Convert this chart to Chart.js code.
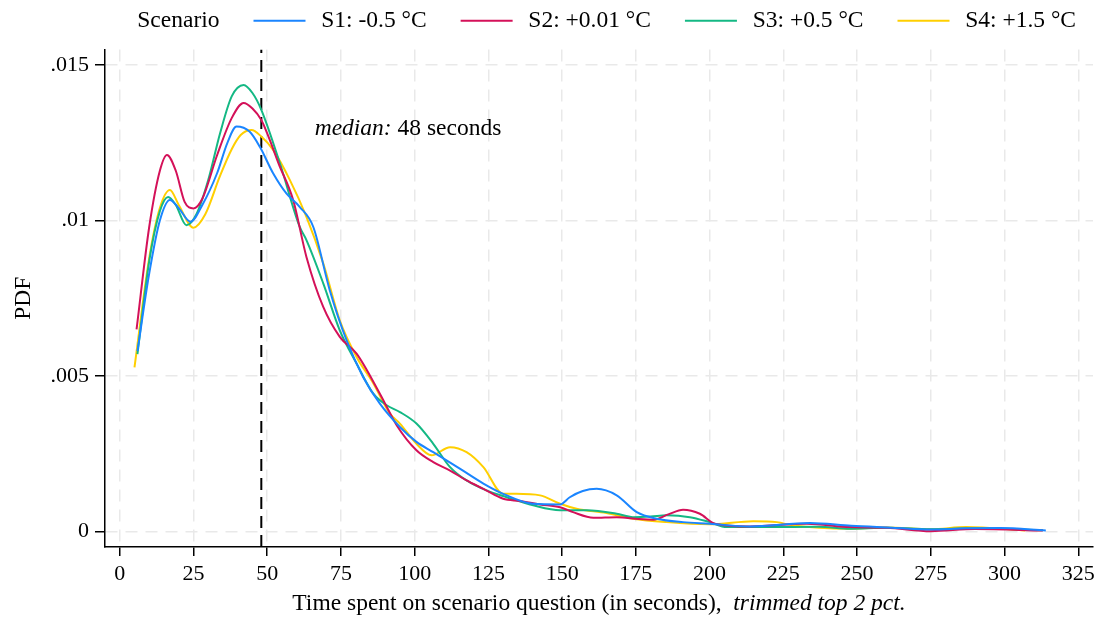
<!DOCTYPE html>
<html>
<head>
<meta charset="utf-8">
<script src="https://cdn.jsdelivr.net/npm/chart.js@4.4.1/dist/chart.umd.min.js"></script>
<style>
  html, body { margin: 0; padding: 0; background: #fff; }
  #wrap { width: 1100px; height: 621px; }
</style>
</head>
<body>
<div id="wrap"><canvas id="chart"></canvas></div>
<script>
// densities, [seconds, pdf]
const s1 = [[6,0.0058],[10,0.0083],[13.6,0.0100],[17,0.01066],[20,0.0104],[24,0.00996],[28,0.0105],[33,0.01152],[36.5,0.0125],[39.6,0.01302],[44,0.01286],[47.5,0.01237],[52,0.01152],[56.5,0.01087],[61,0.01044],[65.6,0.0098],[71.2,0.00776],[76.9,0.00615],[82.5,0.00497],[88.2,0.00411],[95,0.00336],[100.6,0.00288],[106.3,0.00255],[115.3,0.00202],[123.3,0.00154],[130,0.00121],[140,0.00089],[149.3,0.00087],[152.6,0.0011],[157,0.0013],[161.7,0.00137],[168.5,0.00116],[175.3,0.00062],[182,0.00041],[191,0.0003],[200,0.00025],[213.7,0.00016],[234,0.00027],[248,0.00018],[262,0.00012],[275,0.00006],[287,0.0001],[298.5,0.00011],[314,0.00003]];
const s2 = [[5.7,0.0065],[10,0.0098],[13.6,0.0116],[16,0.01211],[19,0.0116],[22,0.0106],[25,0.01039],[28,0.0107],[33,0.0121],[38,0.0133],[42,0.01378],[45,0.0136],[48,0.01323],[50,0.0128],[54,0.0118],[58.8,0.01066],[63.3,0.00883],[69,0.00722],[74.6,0.00626],[80.3,0.00572],[88.2,0.00443],[94,0.0034],[100.6,0.00261],[106.3,0.00223],[112,0.00196],[117.6,0.00164],[123.3,0.00137],[130,0.00105],[135.7,0.00098],[142.5,0.00087],[149.3,0.00078],[153.7,0.00062],[160.6,0.00044],[168.5,0.00046],[176,0.0004],[181,0.00038],[186,0.00055],[191,0.0007],[196.7,0.00057],[201.8,0.00025],[213.7,0.00016],[233,0.00025],[247.6,0.00014],[260,0.00012],[275,0.00001],[290,0.00008],[313,0.00003]];
const s3 = [[6,0.0057],[10,0.0087],[13.6,0.0103],[16.4,0.01076],[19,0.0105],[22.6,0.00985],[26,0.0102],[30,0.0113],[34,0.0128],[38,0.014],[42,0.01436],[45,0.0141],[48,0.01356],[54.3,0.01184],[61,0.0098],[63.3,0.00937],[69,0.00798],[74.6,0.00647],[80.3,0.0054],[86,0.00443],[90.5,0.00406],[95,0.00384],[100.6,0.00347],[106.3,0.00282],[112,0.00207],[117.6,0.00164],[124.4,0.00132],[131.2,0.0011],[140.2,0.00084],[149.3,0.00068],[158.3,0.00068],[168.5,0.00057],[174,0.00046],[180,0.00048],[185.4,0.00052],[193.3,0.00046],[200,0.0003],[205.8,0.00014],[219.3,0.00014],[237,0.00015],[247.6,0.00009],[260,0.00012],[275,0.00007],[290,0.0001],[313,0.00004]];
const s4 = [[5,0.00528],[10,0.0088],[13.6,0.0104],[17,0.01098],[20,0.0105],[25,0.00977],[29,0.0102],[33.9,0.01141],[38,0.0123],[41,0.01275],[44.7,0.01291],[48,0.0127],[52,0.01227],[57.7,0.0113],[63.3,0.01012],[69,0.00862],[74.6,0.00679],[80.3,0.00561],[86,0.00476],[91.6,0.00379],[95,0.00347],[100.6,0.00282],[105.7,0.00245],[112,0.00271],[117.6,0.00255],[123.3,0.00207],[130,0.00121],[134.5,0.00121],[142.5,0.00116],[149.3,0.00089],[154.9,0.00073],[165,0.00059],[174,0.00041],[185.4,0.0003],[200,0.00023],[214.8,0.00033],[222.8,0.0003],[228.4,0.00019],[247.6,0.00009],[260,0.00013],[275,0.00007],[287,0.00014],[307,0.00003]];

const seriesNames = ['S1: -0.5 °C', 'S2: +0.01 °C', 'S3: +0.5 °C', 'S4: +1.5 °C'];
const seriesColors = ['#1a85ff', '#d41159', '#14b884', '#ffcf00'];
const xTicks = [0, 25, 50, 75, 100, 125, 150, 175, 200, 225, 250, 275, 300, 325];
const yTicks = [0, 0.005, 0.01, 0.015];
const yTickLabels = ['0', '.005', '.01', '.015'];
const medianSeconds = 48;

const FONT = '"Liberation Serif", "Times New Roman", serif';
const TXT = 23.5;
const toPoints = arr => arr.map(p => ({ x: p[0], y: p[1] }));

// legend swatch: a short line with some blank space either side
function legendLine(color) {
  const c = document.createElement('canvas');
  c.width = 73; c.height = 4;
  const g = c.getContext('2d');
  g.fillStyle = color;
  g.fillRect(17, 1, 52, 2);
  return c;
}

const datasets = [s1, s2, s3, s4].map((s, i) => ({
  label: seriesNames[i],
  data: toPoints(s),
  borderColor: seriesColors[i],
  backgroundColor: seriesColors[i],
  borderWidth: 2,
  pointRadius: 0,
  pointStyle: legendLine(seriesColors[i]),
  cubicInterpolationMode: 'monotone',
  fill: false
}));
datasets.push({
  label: 'median',
  data: [{ x: medianSeconds, y: -0.0005 }, { x: medianSeconds, y: 0.0155 }],
  borderColor: '#000',
  borderWidth: 2,
  borderDash: [12, 7],
  pointRadius: 0
});

// "Scenario" legend heading, median note and x title (mixed italics)
const extras = {
  id: 'extras',
  afterDraw(chart) {
    const ctx = chart.ctx;
    const { x, y } = chart.scales;
    ctx.save();
    ctx.fillStyle = '#000';

    const box = chart.legend.legendHitBoxes[0];
    ctx.font = TXT + 'px ' + FONT;
    ctx.textAlign = 'right';
    ctx.textBaseline = 'middle';
    ctx.fillText('Scenario', box.left + 17 - 34, box.top + box.height / 2);

    ctx.textAlign = 'left';
    ctx.textBaseline = 'alphabetic';
    const mx = x.getPixelForValue(66.1), my = y.getPixelForValue(0.01275);
    ctx.font = 'italic ' + TXT + 'px ' + FONT;
    ctx.fillText('median:', mx, my);
    const w = ctx.measureText('median:').width;
    ctx.font = TXT + 'px ' + FONT;
    ctx.fillText(' 48 seconds', mx + w, my);

    const t1 = 'Time spent on scenario question (in seconds),  ';
    const t2 = 'trimmed top 2 pct.';
    ctx.font = TXT + 'px ' + FONT;
    const w1 = ctx.measureText(t1).width;
    ctx.font = 'italic ' + TXT + 'px ' + FONT;
    const w2 = ctx.measureText(t2).width;
    const cx = (chart.chartArea.left + chart.chartArea.right) / 2;
    const start = cx - (w1 + w2) / 2;
    ctx.font = TXT + 'px ' + FONT;
    ctx.fillText(t1, start, 610);
    ctx.font = 'italic ' + TXT + 'px ' + FONT;
    ctx.fillText(t2, start + w1, 610);
    ctx.restore();
  }
};

new Chart(document.getElementById('chart'), {
  type: 'line',
  data: { datasets },
  options: {
    responsive: true,
    maintainAspectRatio: false,
    animation: false,
    layout: { padding: { left: 0, right: 7, top: -8, bottom: 0 } },
    plugins: {
      legend: {
        position: 'top',
        align: 'end',
        labels: {
          filter: item => item.text !== 'median',
          usePointStyle: true,
          pointStyleWidth: 73,
          padding: 17,
          color: '#000',
          font: { family: FONT, size: TXT }
        }
      },
      // empty spacer between legend and plot
      title: { display: true, text: '', position: 'top', weight: 100, font: { size: 7, lineHeight: 1 }, padding: 0 },
      tooltip: { enabled: false }
    },
    scales: {
      x: {
        type: 'linear',
        min: -5,
        max: 330,
        afterBuildTicks: s => { s.ticks = xTicks.map(v => ({ value: v })); },
        afterFit: s => { s.height = 74; },
        ticks: { color: '#000', font: { family: FONT, size: 22 }, padding: 5, maxRotation: 0 },
        grid: { color: '#e9e9e9', lineWidth: 1.5, tickLength: 9, tickColor: '#000', tickWidth: 1.5 },
        border: { display: true, color: '#000', width: 1.5, dash: [12, 8] }
      },
      y: {
        min: -0.0005,
        max: 0.0155,
        afterBuildTicks: s => { s.ticks = yTicks.map(v => ({ value: v })); },
        afterFit: s => { s.width = 105; },
        ticks: {
          color: '#000',
          font: { family: FONT, size: 22 },
          padding: 6,
          callback: v => yTickLabels[yTicks.findIndex(t => Math.abs(t - v) < 1e-9)]
        },
        title: { display: true, text: 'PDF', color: '#000', font: { family: FONT, size: TXT }, padding: { top: 10, bottom: 0 } },
        grid: { color: '#e9e9e9', lineWidth: 1.5, tickLength: 10, tickColor: '#000', tickWidth: 1.5 },
        border: { display: true, color: '#000', width: 1.5, dash: [12, 8] }
      }
    }
  },
  plugins: [extras]
});
</script>
</body>
</html>
